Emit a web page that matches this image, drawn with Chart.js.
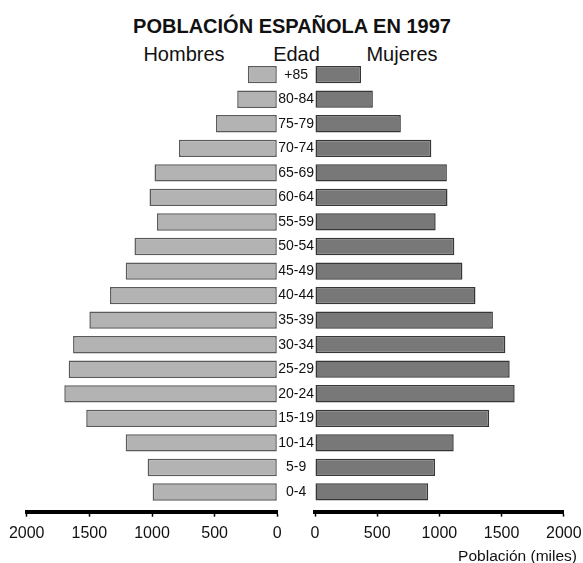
<!DOCTYPE html>
<html lang="es">
<head>
<meta charset="utf-8">
<title>Población española en 1997</title>
<script src="https://cdn.jsdelivr.net/npm/chart.js@4.4.1/dist/chart.umd.min.js"></script>
<style>
  html, body { margin: 0; padding: 0; background: #fff; overflow: hidden; }
  body { position: relative; width: 583px; height: 563px; font-family: "Liberation Sans", Arial, sans-serif; color: #111; }
  .txt { position: absolute; font-size: 20px; line-height: 20px; white-space: nowrap; transform: translateX(-50%); }
  #titulo { font-weight: bold; left: 292px; top: 15.6px; }
  #hombres { left: 184px; top: 44.3px; }
  #edad { left: 296.5px; top: 44.3px; }
  #mujeres { left: 402px; top: 44.3px; }
  #cajaIzq { position: absolute; left: 0; top: 0; width: 315px; height: 563px; }
  #cajaDer { position: absolute; left: 300px; top: 0; width: 289px; height: 563px; }
</style>
</head>
<body>
<div class="txt" id="titulo">POBLACIÓN ESPAÑOLA EN 1997</div>
<div class="txt" id="hombres">Hombres</div>
<div class="txt" id="edad">Edad</div>
<div class="txt" id="mujeres">Mujeres</div>
<div id="cajaIzq"><canvas id="graficoHombres"></canvas></div>
<div id="cajaDer"><canvas id="graficoMujeres"></canvas></div>

<script>
// datos en miles de personas, de la edad mayor a la menor (de arriba abajo)
const edades = ['+85', '80-84', '75-79', '70-74', '65-69', '60-64', '55-59', '50-54', '45-49',
                '40-44', '35-39', '30-34', '25-29', '20-24', '15-19', '10-14', '5-9', '0-4'];
const hombres = [235, 320, 490, 785, 980, 1020, 960, 1140, 1210, 1335, 1500, 1630, 1665, 1700, 1525, 1210, 1035, 995];
const mujeres = [370, 465, 690, 935, 1060, 1065, 970, 1120, 1185, 1290, 1430, 1530, 1565, 1605, 1400, 1115, 965, 910];
const ticksPoblacion = [0, 500, 1000, 1500, 2000];

const fuente = '"Liberation Sans", Arial, sans-serif';

function ejePoblacion(reverse) {
    return {
        type: 'linear',
        position: 'bottom',
        weight: 1,
        reverse: reverse,
        min: ticksPoblacion[0],
        max: ticksPoblacion[ticksPoblacion.length - 1],
        afterBuildTicks: (scale) => {
            scale.ticks = ticksPoblacion.map(v => ({ value: v }));
        },
        ticks: {
            padding: 7.4,
            color: '#111',
            font: { family: fuente, size: 16 },
            callback: (value) => String(value)
        },
        grid: { drawOnChartArea: false, drawTicks: true, tickLength: 5, tickWidth: 1.5, tickColor: '#000' },
        border: { display: true, color: '#000', width: 4 }
    };
}

// pequeño espacio entre las barras y la línea del eje
function hueco() {
    return {
        type: 'linear',
        position: 'bottom',
        weight: 0,
        ticks: { display: false },
        grid: { display: false, drawTicks: false },
        border: { display: false },
        afterFit: (scale) => { scale.height = 7.4; }
    };
}

function dataset(valores, relleno, borde) {
    return {
        label: '',
        data: valores,
        backgroundColor: relleno,
        borderColor: borde,
        borderWidth: 1.5,
        borderSkipped: false,
        categoryPercentage: 0.705,
        barPercentage: 1
    };
}

document.addEventListener("DOMContentLoaded", () => {
    const configHombres = {
        type: 'bar',
        data: {
            labels: edades,
            datasets: [dataset(hombres, '#b3b3b3', '#5a5a5a')]
        },
        options: {
            indexAxis: 'y',
            responsive: true,
            maintainAspectRatio: false,
            animation: false,
            layout: { padding: { top: 62.4, left: 26.7, right: 0, bottom: 12.3 } },
            plugins: { legend: { display: false }, tooltip: { enabled: false } },
            scales: {
                x: ejePoblacion(true),
                hueco: hueco(),
                y: {
                    position: 'right',
                    afterFit: (scale) => { scale.width = 37.7; },
                    grid: { display: false, drawTicks: false },
                    border: { display: false },
                    ticks: { padding: 1, crossAlign: 'center', color: '#111', font: { family: fuente, size: 14 } }
                }
            }
        }
    };

    const configMujeres = {
        type: 'bar',
        data: {
            labels: edades,
            datasets: [dataset(mujeres, '#787878', '#363636')]
        },
        options: {
            indexAxis: 'y',
            responsive: true,
            maintainAspectRatio: false,
            animation: false,
            layout: { padding: { top: 62.4, left: 15, right: 12, bottom: 0 } },
            plugins: {
                legend: { display: false },
                tooltip: { enabled: false },
                title: {
                    display: true,
                    text: 'Población (miles)',
                    position: 'bottom',
                    align: 'end',
                    color: '#111',
                    font: { family: fuente, size: 15.5, weight: 'normal', lineHeight: 0.8 },
                    padding: { top: 0, bottom: 0 }
                }
            },
            scales: {
                x: ejePoblacion(false),
                hueco: hueco(),
                y: { display: false }
            }
        }
    };

    new Chart(document.getElementById('graficoHombres'), configHombres);
    new Chart(document.getElementById('graficoMujeres'), configMujeres);
});
</script>
</body>
</html>
